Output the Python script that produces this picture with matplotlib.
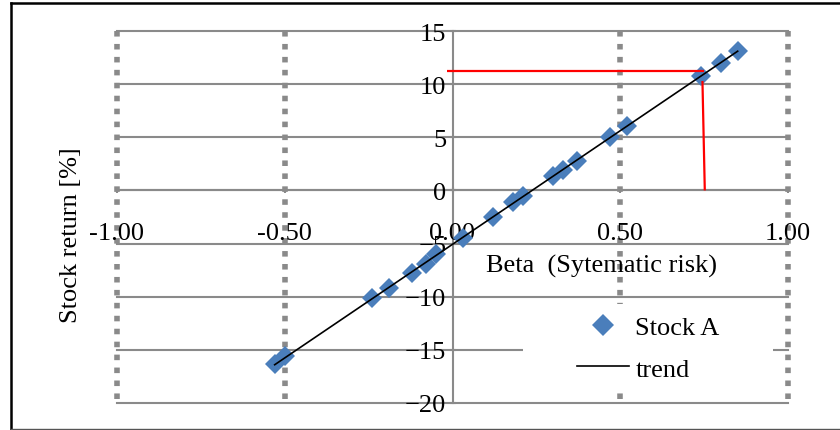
import numpy as np
import matplotlib.pyplot as plt
from matplotlib.lines import Line2D
from matplotlib.patches import Rectangle

plt.rcParams['font.family'] = ['Liberation Serif', 'DejaVu Serif']

# stock A: beta vs. return
beta = [-0.53, -0.50, -0.24, -0.19, -0.12, -0.08, -0.05, 0.03, 0.12, 0.18,
        0.21, 0.30, 0.33, 0.37, 0.47, 0.52, 0.74, 0.80, 0.85]
stock_ret = [-16.3, -15.6, -10.1, -9.2, -7.8, -6.9, -6.0, -4.5, -2.5, -1.1,
             -0.5, 1.4, 1.9, 2.8, 5.0, 6.1, 10.8, 12.0, 13.1]

# trend line end points
trend_x = [-0.53, 0.85]
trend_y = [-16.4, 13.1]

# red reading lines
red_h_x = [-0.015, 0.75]
red_h_y = [11.2, 11.2]
red_v_x = [0.745, 0.752]
red_v_y = [10.3, 0.0]

xticks = [-1.0, -0.5, 0.0, 0.5, 1.0]
xticklabels = ['-1.00', '-0.50', '0.00', '0.50', '1.00']
yticks = [-20, -15, -10, -5, 0, 5, 10, 15]

grid_col = '#8a8a8a'
blue = '#4a7ebb'
fs = 19

fig = plt.figure(figsize=(8.4, 4.31), dpi=100)
ax = fig.add_axes([117/840, 1-404/431, (788-117)/840, (404-32)/431])
ax.set_xlim(-1, 1)
ax.set_ylim(-20, 15)

# horizontal gridlines (solid)
for yv in yticks:
    ax.plot([-1, 1], [yv, yv], color=grid_col, lw=1.5, zorder=1, clip_on=False)
# vertical gridlines (square dots)
for xv in xticks:
    if xv == 0:
        continue
    ax.plot([xv, xv], [15, -20], color=grid_col, lw=4, ls=(0, (1, 1.33)),
            solid_capstyle='butt', dash_capstyle='butt', zorder=1, clip_on=False)

# axes through the origin
for s in ['top', 'right']:
    ax.spines[s].set_visible(False)
ax.spines['left'].set_position(('data', 0))
ax.spines['bottom'].set_position(('data', 0))
for s in ['left', 'bottom']:
    ax.spines[s].set_color(grid_col)
    ax.spines[s].set_linewidth(1.5)
    ax.spines[s].set_zorder(1.5)

ax.set_xticks(xticks)
ax.set_xticklabels(xticklabels)
ax.set_yticks(yticks)
ax.tick_params(axis='x', direction='inout', length=5, width=1.5, color=grid_col,
               pad=20, labelsize=fs)
ax.tick_params(axis='y', direction='inout', length=5, width=1.5, color=grid_col,
               pad=2, labelsize=fs)
ax.patch.set_visible(False)

# data
ax.plot(beta, stock_ret, ls='none', marker='D', ms=10, color=blue,
        markeredgewidth=0, zorder=3, clip_on=False)
ax.plot(trend_x, trend_y, color='black', lw=1.2, zorder=4)

# red lines
ax.plot(red_h_x, red_h_y, color='red', lw=1.6, zorder=5, solid_capstyle='butt')
ax.plot(red_v_x, red_v_y, color='red', lw=1.6, zorder=5, solid_capstyle='butt')

# axis titles
fig.text(602/840, 1-266/431, 'Beta  (Sytematic risk)', ha='center', va='center',
         fontsize=fs)
fig.text(71/840, 1-235/431, 'Stock return [%]', ha='center', va='center',
         fontsize=fs, rotation=90)

# legend on a white box
ax.add_patch(Rectangle((523/840, 1-390/431), 250/840, 85/431,
                       transform=fig.transFigure, facecolor='white',
                       edgecolor='none', zorder=2.5, clip_on=False))
handles = [Line2D([], [], ls='none', marker='D', ms=11, color=blue, markeredgewidth=0),
           Line2D([], [], color='black', lw=1.2)]
ax.legend(handles, ['Stock A', 'trend'], loc='center left',
          bbox_to_anchor=(564/840, 1-349/431), bbox_transform=fig.transFigure,
          frameon=False, fontsize=fs, handlelength=1.95, handletextpad=0.25,
          labelspacing=0.7, borderpad=0)

# outer frame
fig.add_artist(Line2D([11/840, 1], [1-4/431, 1-4/431], color='black', lw=1.8,
                      transform=fig.transFigure))
fig.add_artist(Line2D([11/840, 11/840], [1-4/431, 1-430/431], color='black', lw=1.8,
                      transform=fig.transFigure))
fig.add_artist(Line2D([11/840, 1], [1-430/431, 1-430/431], color='#555555', lw=1.0,
                      transform=fig.transFigure))

fig.savefig('out.png', dpi=100)
